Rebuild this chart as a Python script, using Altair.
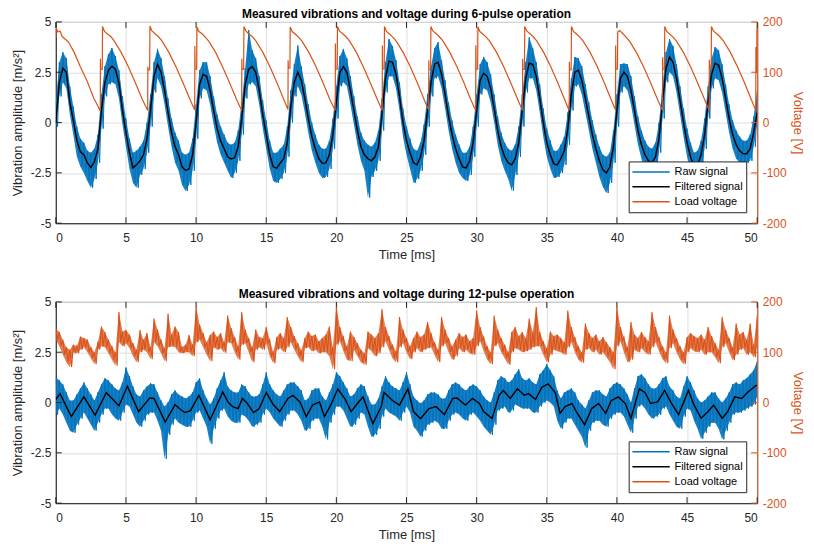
import altair as alt
import pandas as pd

# ---------------- shared ticks / labels ----------------
X_TICKS = [0, 5, 10, 15, 20, 25, 30, 35, 40, 45, 50]
ACC_TICKS = [-5, -2.5, 0, 2.5, 5]
VOLT_TICKS = [-200, -100, 0, 100, 200]
SERIES = ["Raw signal", "Filtered signal", "Load voltage"]
TITLE_6 = "Measured vibrations and voltage during 6-pulse operation"
TITLE_12 = "Measured vibrations and voltage during 12-pulse operation"

# sample grid of the vibration envelopes (ms)
GRID_T = [i * 0.25 for i in range(201)]

# ---------------- 6-pulse panel ----------------
top_filtered = [
    0.0, 2.0, 2.7, 2.5, 1.0, 0.1, -0.9, -1.45, -1.6, -2.0, -2.23, -1.95,
    -1.3, 0.6, 2.0, 2.6, 2.8, 2.65, 1.95, 0.6, -0.5, -1.5, -2.25, -2.1,
    -1.9, -1.6, -0.8, 0.6, 2.3, 2.9, 2.5, 1.6, 0.5, -0.5, -1.2, -1.6,
    -2.2, -2.38, -2.3, -1.6, 0.0, 1.9, 2.4, 2.3, 1.6, 0.6, -0.3, -0.9,
    -1.3, -1.7, -1.81, -1.75, -1.2, 0.2, 1.9, 2.65, 2.78, 2.5, 1.6, 0.4,
    -0.6, -1.6, -2.2, -2.27, -2.0, -1.8, -1.0, 0.8, 2.0, 2.5, 2.1, 1.2,
    0.2, -0.7, -1.3, -1.8, -2.02, -2.0, -1.6, -0.6, 1.0, 2.5, 2.78, 2.5,
    1.6, 0.6, -0.4, -1.2, -1.6, -1.8, -1.9, -1.7, -1.2, 0.4, 2.2, 3.05,
    3.0, 2.4, 1.3, 0.0, -0.9, -1.5, -2.0, -2.1, -1.7, -0.9, 0.6, 2.0,
    2.9, 3.0, 2.4, 1.4, 0.3, -0.6, -1.3, -1.8, -2.2, -2.25, -1.9, -1.0,
    0.6, 2.1, 2.45, 2.3, 1.7, 0.7, -0.4, -1.2, -1.7, -2.0, -2.1, -1.8,
    -1.0, 0.6, 2.2, 2.95, 2.9, 2.3, 1.2, 0.0, -1.0, -1.6, -2.05, -2.1,
    -1.8, -1.4, -0.3, 1.4, 2.5, 2.6, 2.1, 1.2, 0.3, -0.6, -1.3, -1.9,
    -2.35, -2.5, -2.2, -1.2, 0.6, 2.2, 2.5, 2.3, 1.6, 0.6, -0.4, -1.1,
    -1.6, -1.9, -2.0, -1.7, -0.8, 1.0, 2.7, 3.25, 3.0, 2.2, 1.1, 0.0,
    -1.0, -1.7, -2.2, -2.1, -1.6, -0.6, 1.0, 2.4, 2.95, 2.85, 2.2, 1.2,
    0.2, -0.6, -1.1, -1.4, -1.55, -1.55, -1.3, -0.5, 0.5,
]
top_raw_hi = [
    1.0, 3.0, 3.5, 3.2, 1.8, 0.8, -0.2, -0.8, -1.0, -1.4, -1.5, -1.3,
    -0.6, 1.4, 2.8, 3.4, 3.7, 3.3, 2.6, 1.3, 0.2, -0.8, -1.5, -1.4,
    -1.2, -0.9, 0.0, 1.4, 3.0, 3.66, 3.2, 2.3, 1.2, 0.2, -0.5, -0.9,
    -1.5, -1.6, -1.5, -0.8, 0.9, 2.6, 3.0, 3.0, 2.3, 1.3, 0.4, -0.2,
    -0.6, -1.0, -1.1, -1.0, -0.4, 1.0, 2.7, 4.6, 3.6, 3.2, 2.3, 1.1,
    0.1, -0.9, -1.5, -1.5, -1.3, -1.1, -0.2, 1.6, 2.9, 3.83, 2.8, 1.9,
    0.9, 0.0, -0.6, -1.1, -1.3, -1.3, -0.9, 0.2, 1.8, 3.3, 3.66, 3.2,
    2.3, 1.3, 0.3, -0.5, -0.9, -1.1, -1.2, -1.0, -0.4, 1.2, 3.0, 4.15,
    3.8, 3.1, 2.0, 0.7, -0.2, -0.8, -1.3, -1.4, -1.0, -0.1, 1.4, 2.8,
    3.7, 4.0, 3.1, 2.1, 1.0, 0.1, -0.6, -1.1, -1.5, -1.5, -1.2, -0.2,
    1.4, 2.9, 3.26, 3.0, 2.4, 1.4, 0.3, -0.5, -1.0, -1.3, -1.4, -1.1,
    -0.2, 1.4, 3.0, 4.24, 3.7, 3.0, 1.9, 0.7, -0.3, -0.9, -1.4, -1.4,
    -1.1, -0.7, 0.5, 2.2, 3.26, 3.2, 2.8, 1.9, 1.0, 0.1, -0.6, -1.2,
    -1.6, -1.7, -1.5, -0.4, 1.4, 2.9, 2.94, 2.9, 2.3, 1.3, 0.3, -0.4,
    -0.9, -1.2, -1.3, -1.0, 0.0, 1.8, 3.5, 4.15, 3.8, 2.9, 1.8, 0.7,
    -0.3, -1.0, -1.5, -1.4, -0.9, 0.2, 1.8, 3.2, 3.75, 3.6, 2.9, 1.9,
    0.9, 0.1, -0.4, -0.7, -0.9, -0.9, -0.6, 0.3, 1.56,
]
top_raw_lo = [
    -0.2, 1.3, 2.0, 1.7, 0.4, -0.6, -1.7, -2.2, -2.5, -2.9, -3.24, -2.8,
    -2.0, -0.3, 1.3, 1.9, 2.0, 1.9, 1.2, -0.1, -1.2, -2.3, -3.0, -3.24,
    -2.6, -2.3, -1.5, -0.2, 1.5, 2.2, 1.8, 0.9, -0.2, -1.2, -2.0, -2.4,
    -3.1, -3.4, -3.1, -2.4, -0.8, 1.2, 1.7, 1.6, 0.9, -0.1, -1.0, -1.6,
    -2.0, -2.4, -2.75, -2.5, -1.9, -0.6, 1.2, 1.9, 2.0, 1.8, 0.9, -0.3,
    -1.3, -2.3, -2.9, -3.0, -2.8, -2.5, -1.7, 0.0, 1.3, 1.8, 1.4, 0.5,
    -0.5, -1.4, -2.0, -2.5, -2.75, -2.7, -2.3, -1.3, 0.2, 1.8, 2.0, 1.8,
    0.9, -0.1, -1.1, -1.9, -2.4, -3.73, -2.7, -2.4, -1.9, -0.4, 1.5, 2.3,
    2.3, 1.7, 0.6, -0.7, -1.6, -2.3, -3.0, -2.8, -2.4, -1.6, -0.2, 1.3,
    2.2, 2.3, 1.7, 0.7, -0.4, -1.3, -2.0, -2.5, -2.75, -2.9, -2.6, -1.7,
    -0.2, 1.4, 1.7, 1.6, 1.0, 0.0, -1.1, -1.9, -2.4, -2.8, -3.4, -2.6,
    -1.7, -0.2, 1.5, 2.2, 2.2, 1.6, 0.5, -0.7, -1.7, -2.3, -2.75, -2.7,
    -2.5, -2.1, -1.1, 0.6, 1.8, 1.9, 1.4, 0.5, -0.4, -1.3, -2.0, -2.7,
    -3.2, -3.5, -3.0, -2.0, -0.2, 1.5, 1.8, 1.6, 0.9, -0.1, -1.1, -1.8,
    -2.4, -2.8, -2.7, -2.4, -1.5, 0.2, 2.0, 2.5, 2.3, 1.5, 0.4, -0.7,
    -1.7, -2.4, -3.0, -2.8, -2.3, -1.3, 0.2, 1.7, 2.2, 2.1, 1.5, 0.5,
    -0.5, -1.3, -1.8, -2.0, -2.0, -2.0, -1.9, -1.2, 0.0,
]
top_volt_t = [
    0.0, 0.01, 0.15, 0.3, 0.45, 0.7, 0.9, 1.3, 1.75, 2.25, 2.7, 3.05, 3.17,
    3.18, 3.2, 3.31, 3.33, 3.47, 3.72, 3.92, 4.17, 4.67, 5.17, 5.67, 6.17,
    6.55, 6.56, 6.58, 6.69, 6.71, 6.85, 7.1, 7.3, 7.55, 8.05, 8.55, 9.05, 9.55,
    9.9, 9.91, 9.93, 10.04, 10.06, 10.2, 10.45, 10.65, 10.9, 11.4, 11.9, 12.4, 12.9,
    13.25, 13.26, 13.28, 13.39, 13.41, 13.55, 13.8, 14.0, 14.25, 14.75, 15.25, 15.75, 16.25,
    16.55, 16.56, 16.58, 16.69, 16.71, 16.85, 17.1, 17.3, 17.55, 18.05, 18.55, 19.05, 19.55,
    19.92, 19.93, 19.95, 20.06, 20.08, 20.22, 20.47, 20.67, 20.92, 21.42, 21.92, 22.42, 22.92,
    23.27, 23.28, 23.3, 23.41, 23.43, 23.57, 23.82, 24.02, 24.27, 24.77, 25.27, 25.77, 26.27,
    26.58, 26.59, 26.61, 26.72, 26.74, 26.88, 27.13, 27.33, 27.58, 28.08, 28.58, 29.08, 29.58,
    29.93, 29.94, 29.96, 30.07, 30.09, 30.23, 30.48, 30.68, 30.93, 31.43, 31.93, 32.43, 32.93,
    33.27, 33.28, 33.3, 33.41, 33.43, 33.57, 33.82, 34.02, 34.27, 34.77, 35.27, 35.77, 36.27,
    36.6, 36.61, 36.63, 36.74, 36.76, 36.9, 37.15, 37.35, 37.6, 38.1, 38.6, 39.1, 39.6,
    39.9, 39.91, 39.93, 40.04, 40.06, 40.2, 40.45, 40.65, 40.9, 41.4, 41.9, 42.4, 42.9,
    43.25, 43.26, 43.28, 43.39, 43.41, 43.55, 43.8, 44.0, 44.25, 44.75, 45.25, 45.75, 46.25,
    46.58, 46.59, 46.61, 46.72, 46.74, 46.88, 47.13, 47.33, 47.58, 48.08, 48.58, 49.08, 49.58,
    49.9, 49.91, 49.93, 49.97, 49.98, 50.0,
]
top_volt_v = [
    168, 189, 180, 182, 171, 165, 160, 140, 111, 81, 49, 30, 23,
    127, 105, 106, 191, 181, 175, 171, 162, 139, 111, 79, 46,
    24, 111, 104, 105, 192, 182, 176, 171, 163, 140, 112, 80, 47,
    25, 152, 106, 106, 190, 181, 176, 170, 162, 139, 110, 78, 45,
    24, 127, 105, 106, 191, 182, 175, 171, 163, 140, 112, 80, 46,
    26, 124, 108, 108, 190, 181, 175, 170, 162, 139, 111, 79, 45,
    24, 157, 106, 106, 191, 182, 176, 171, 163, 140, 111, 79, 46,
    24, 153, 106, 107, 191, 181, 175, 170, 162, 139, 111, 79, 45,
    25, 124, 105, 106, 191, 182, 176, 171, 163, 140, 112, 80, 46,
    24, 153, 106, 106, 190, 181, 175, 170, 162, 139, 111, 79, 46,
    24, 127, 105, 106, 191, 182, 176, 171, 163, 140, 112, 80, 46,
    24, 121, 104, 105, 191, 181, 175, 170, 162, 139, 111, 79, 45,
    25, 153, 106, 106, 180, 183, 176, 170, 162, 139, 111, 79, 46,
    24, 130, 106, 106, 191, 181, 175, 170, 162, 139, 111, 79, 46,
    24, 125, 105, 106, 191, 182, 176, 171, 163, 140, 112, 80, 46,
    24, 150, 100, 100, 189, 185,
]

# ---------------- 12-pulse panel ----------------
bot_filtered_t = [
    0, 0.3, 1.1, 2.0, 2.8, 3.6, 4.0, 4.5, 5.1, 5.9, 6.7, 7.0, 7.8, 8.5, 8.8,
    9.2, 9.6, 10.2, 11.0, 11.9, 12.3, 12.6, 13.0, 13.3, 13.6, 14.1, 14.5,
    15.0, 15.5, 15.96, 16.55, 16.9, 17.4, 17.85, 18.3, 18.8, 19.15, 19.6,
    20.1, 20.6, 21.05, 21.5, 21.9, 22.2, 22.6, 23.2, 23.4, 24.0, 24.5, 25.1,
    25.5, 26.0, 26.6, 27.1, 27.7, 28.3, 28.6, 29.2, 29.7, 30.2, 30.5, 31.1,
    31.6, 31.9, 32.4, 32.9, 33.4, 33.7, 34.2, 34.65, 35.1, 35.6, 35.95, 36.3,
    36.8, 37.1, 37.7, 38.2, 38.7, 39.2, 39.6, 40.1, 40.6, 41.0, 41.6, 42.0,
    42.4, 42.9, 43.4, 43.9, 44.4, 45.1, 45.5, 46.0, 46.5, 46.9, 47.5, 47.9,
    48.4, 48.9, 49.3, 49.9, 50.0,
]
bot_filtered_v = [
    0.15, 0.44, -0.7, 0.28, -0.62, 0.49, 0.2, -0.16, 0.81, -0.45, 0.23, 0.2,
    -0.97, -0.1, -0.3, -0.5, -0.4, 0.36, -0.86, 0.52, 0.0, -0.2, -0.3, 0.2,
    0.0, -0.5, -0.3, 0.5, -0.1, -0.45, 0.2, 0.36, 0.03, -0.7, -0.13, 0.03,
    -0.7, -0.13, 0.68, 0.2, -0.45, -0.05, 0.28, -0.3, -1.05, -0.2, 0.5, 0.1,
    -0.13, 0.68, -0.45, -0.8, -0.3, -0.2, -0.6, 0.2, 0.23, -0.13, 0.2, -0.05,
    -0.45, -0.8, 0.36, 0.6, 0.2, 0.68, 0.36, 0.44, 0.15, 0.76, 0.93, 0.5,
    -0.54, -0.2, -0.05, -0.45, -1.1, -0.3, -0.05, -0.54, 0.1, 0.28, -0.05,
    -0.78, 0.68, 0.5, -0.05, 0.03, 0.6, -0.05, -0.6, 0.6, -0.13, -0.78,
    -0.45, -0.13, -0.78, -0.45, 0.28, 0.2, 0.5, 0.84, 0.85,
]
bot_raw_hi = [
    1.25, 1.1, 0.9, 0.5, 0.1, 0.1, 0.4, 0.7, 1.0, 0.7, 0.4, 0.1,
    0.5, 0.9, 1.2, 1.1, 0.9, 0.7, 0.6, 1.0, 1.74, 1.3, 0.8, 0.4,
    0.3, 0.6, 0.8, 0.95, 0.9, 0.5, 0.1, -0.2, 0.0, 0.4, 0.6, 0.4,
    0.3, 0.2, 0.3, 0.5, 1.0, 1.2, 0.6, 0.2, -0.1, 0.2, 0.7, 1.1,
    1.5, 0.8, 0.6, 0.5, 0.5, 0.9, 0.8, 0.5, 0.3, 0.3, 0.4, 0.9,
    1.5, 0.9, 0.6, 0.4, 0.3, 0.6, 0.9, 1.0, 1.0, 0.8, 0.6, 0.1,
    0.2, 0.6, 0.7, 0.7, 0.3, 0.1, 0.5, 0.9, 1.5, 1.3, 1.0, 0.7,
    0.3, 0.4, 0.7, 0.9, 0.8, 0.3, -0.1, -0.1, 0.2, 0.8, 1.3, 1.0,
    0.8, 0.7, 0.6, 1.0, 1.5, 0.9, 0.3, 0.1, -0.05, 0.1, 0.4, 0.5,
    0.5, 0.4, 0.2, 0.2, 0.6, 0.9, 1.0, 0.9, 0.7, 0.6, 0.8, 0.9,
    0.8, 0.6, 0.3, 0.1, 0.0, 0.5, 1.1, 1.3, 1.2, 1.0, 1.1, 1.4,
    1.65, 1.2, 1.1, 1.2, 1.0, 0.9, 1.4, 1.6, 1.9, 1.6, 1.3, 0.6,
    0.2, 0.5, 0.6, 0.7, 0.5, 0.1, -0.1, -0.3, 0.1, 0.5, 0.6, 0.6,
    0.4, 0.3, 0.7, 0.9, 1.0, 0.9, 0.7, 0.4, 0.0, 0.7, 1.3, 1.4,
    1.2, 0.9, 0.7, 0.7, 0.9, 1.2, 1.3, 0.8, 0.6, 0.3, 0.2, 0.8,
    1.3, 1.0, 0.6, 0.2, 0.0, 0.1, 0.3, 0.5, 0.5, 0.2, 0.0, 0.2,
    0.5, 0.9, 1.0, 0.9, 1.1, 1.2, 1.4, 1.6, 2.06,
]
bot_raw_lo = [
    -0.6, -0.3, -0.6, -1.0, -1.4, -1.5, -1.1, -0.8, -0.5, -0.8, -1.1, -1.4,
    -1.0, -0.6, -0.3, -0.3, -0.6, -0.8, -0.9, -0.5, -0.1, -0.2, -0.6, -1.0,
    -1.2, -0.9, -0.6, -0.5, -0.5, -0.9, -1.4, -2.8, -1.6, -1.1, -0.8, -1.0,
    -1.1, -1.2, -1.2, -0.9, -0.5, -0.4, -0.8, -1.2, -2.05, -1.3, -0.8, -0.4,
    -0.3, -0.7, -0.9, -1.0, -1.0, -0.6, -0.7, -0.9, -1.2, -1.1, -1.0, -0.6,
    -0.3, -0.5, -0.8, -1.0, -1.2, -0.9, -0.6, -0.4, -0.4, -0.6, -0.9, -1.4,
    -1.3, -0.9, -0.8, -0.8, -1.2, -1.83, -1.0, -0.6, -0.2, -0.2, -0.4, -0.8,
    -1.2, -1.1, -0.8, -0.5, -0.6, -1.2, -1.7, -1.6, -1.3, -0.7, -0.3, -0.5,
    -0.6, -0.7, -0.9, -0.5, -0.2, -0.5, -1.2, -1.4, -1.7, -1.4, -1.1, -1.0,
    -0.9, -1.0, -1.3, -1.3, -0.9, -0.6, -0.5, -0.6, -0.8, -0.9, -0.6, -0.5,
    -0.7, -0.9, -1.2, -1.4, -1.6, -1.1, -0.4, -0.3, -0.2, -0.5, -0.4, -0.1,
    -0.2, -0.3, -0.3, -0.3, -0.5, -0.5, -0.2, 0.0, 0.1, 0.0, -0.2, -0.9,
    -1.3, -1.0, -0.8, -0.8, -1.1, -1.4, -1.7, -2.24, -1.4, -1.0, -0.9, -0.9,
    -1.1, -1.2, -0.8, -0.6, -0.5, -0.5, -0.7, -1.1, -1.5, -0.8, -0.2, -0.1,
    -0.3, -0.6, -0.8, -0.7, -0.6, -0.3, -0.2, -0.6, -0.9, -1.2, -1.3, -0.7,
    -0.3, -0.4, -0.9, -1.3, -1.8, -1.5, -1.2, -1.0, -1.0, -1.3, -1.83, -1.4,
    -1.0, -0.6, -0.5, -0.5, -0.4, -0.3, -0.2, -0.1, 0.3,
]
bot_volt_hi = [
    147, 140, 125, 110, 105, 115, 112, 131, 128, 125, 110, 100,
    121, 151, 140, 125, 112, 100, 180, 141, 144, 135, 118, 105,
    144, 125, 138, 110, 167, 145, 125, 108, 177, 135, 151, 140,
    110, 115, 134, 115, 190, 155, 138, 120, 134, 141, 130, 138,
    120, 173, 148, 130, 112, 180, 145, 128, 110, 145, 130, 128,
    150, 125, 100, 130, 138, 128, 170, 150, 132, 118, 104, 128,
    141, 132, 135, 122, 128, 135, 151, 110, 190, 150, 130, 112,
    141, 130, 118, 105, 98, 141, 135, 128, 138, 186, 150, 132,
    115, 102, 170, 145, 128, 112, 128, 141, 130, 135, 160, 138,
    120, 105, 170, 145, 128, 112, 125, 138, 130, 135, 122, 128,
    183, 150, 130, 112, 100, 173, 145, 128, 115, 100, 140, 150,
    132, 140, 128, 167, 140, 190, 140, 122, 108, 141, 132, 135,
    128, 120, 183, 150, 130, 112, 100, 157, 138, 128, 135, 122,
    130, 120, 110, 100, 190, 150, 130, 110, 160, 135, 128, 140,
    130, 122, 180, 150, 130, 112, 100, 173, 145, 128, 112, 100,
    130, 138, 132, 128, 135, 125, 150, 132, 118, 105, 170, 145,
    128, 110, 157, 135, 140, 125, 157, 115, 173,
]
bot_volt_lo = [
    125, 112, 95, 80, 70, 100, 98, 105, 110, 100, 88, 76,
    105, 112, 110, 98, 85, 73, 120, 112, 118, 108, 92, 80,
    100, 105, 100, 86, 120, 112, 98, 82, 110, 112, 110, 100,
    98, 100, 100, 92, 120, 125, 110, 95, 82, 110, 105, 108,
    99, 120, 118, 100, 85, 115, 118, 100, 80, 105, 110, 105,
    118, 92, 78, 105, 108, 100, 110, 120, 105, 92, 80, 108,
    110, 102, 105, 98, 100, 100, 92, 66, 115, 122, 102, 85,
    82, 105, 92, 80, 75, 108, 102, 92, 98, 110, 122, 105,
    88, 80, 110, 118, 100, 86, 100, 108, 100, 105, 108, 110,
    95, 80, 112, 118, 100, 85, 92, 108, 100, 105, 98, 95,
    112, 122, 102, 85, 76, 112, 118, 100, 88, 75, 100, 108,
    105, 100, 102, 105, 110, 112, 112, 95, 80, 95, 105, 102,
    100, 95, 110, 120, 100, 85, 79, 105, 108, 100, 105, 95,
    100, 90, 80, 66, 112, 122, 100, 80, 85, 105, 100, 108,
    100, 95, 110, 120, 102, 86, 78, 108, 118, 100, 85, 76,
    100, 108, 102, 100, 105, 95, 100, 100, 90, 78, 110, 118,
    100, 84, 95, 105, 108, 95, 100, 90, 110,
]

# ---------------- styling ----------------
FONT = "Liberation Sans"
BLUE = "#0072BD"
ORANGE = "#D95319"
AXC = "#262626"
GRIDC = "#DFDFDF"
W, H = 704, 202
TL = 6  # inward tick length (px)


def zigzag(t, hi, lo, field, name):
    rows = []
    for ti, h, l in zip(t, hi, lo):
        rows.append({"t": ti, field: h, "series": name})
        if ti + 0.125 <= 50:
            rows.append({"t": ti + 0.125, field: l, "series": name})
    return pd.DataFrame(rows)


def band(t, hi, lo, field):
    return pd.DataFrame({"t": t, field: lo, field + "2": hi})


def panel(title, filt_t, filt_v, raw_hi, raw_lo, volt_t, volt_v, volt_lo=None):
    color = alt.Color(
        "series:N",
        scale=alt.Scale(domain=SERIES, range=[BLUE, "#000000", ORANGE]),
        legend=alt.Legend(
            orient="none", legendX=575, legendY=H - 62, title=None,
            symbolType="stroke", symbolSize=1400, symbolStrokeWidth=1.5,
            labelFont=FONT, labelFontSize=11, labelColor="black",
            fillColor="white", strokeColor=AXC, padding=3, rowPadding=0,
            clipHeight=15, labelOffset=4, cornerRadius=0,
        ),
    )
    x = alt.X(
        "t:Q", scale=alt.Scale(domain=[0, 50], nice=False),
        axis=alt.Axis(values=X_TICKS, title="Time [ms]", grid=True,
                      labelPadding=9, titlePadding=5,
                      labelExpr="'' + datum.value"),
    )
    yl = alt.Y(
        "a:Q", scale=alt.Scale(domain=[-5, 5], nice=False),
        axis=alt.Axis(values=ACC_TICKS, orient="left", grid=True,
                      title="Vibration amplitude [m/s²]",
                      labelExpr="'' + datum.value"),
    )
    yr = alt.Y(
        "v:Q", scale=alt.Scale(domain=[-200, 200], nice=False),
        axis=alt.Axis(values=VOLT_TICKS, orient="right", grid=False,
                      title="Voltage [V]", labelColor=ORANGE, titleColor=ORANGE,
                      domainColor=ORANGE, titlePadding=4,
                      labelExpr="'' + datum.value"),
    )
    raw_df = zigzag(GRID_T, raw_hi, raw_lo, "a", "Raw signal")
    raw_band = band(GRID_T, raw_hi, raw_lo, "a")
    filt_df = pd.DataFrame({"t": filt_t, "a": filt_v, "series": "Filtered signal"})
    xt = pd.DataFrame({"t": X_TICKS})
    yt = pd.DataFrame({"a": ACC_TICKS})

    rawb = alt.Chart(raw_band).mark_area(color=BLUE, opacity=0.9, clip=True).encode(
        x=x, y=yl, y2="a2:Q")
    raw = alt.Chart(raw_df).mark_line(strokeWidth=1, clip=True).encode(x=x, y=yl, color=color)
    filt = alt.Chart(filt_df).mark_line(strokeWidth=1.4, clip=True).encode(x=x, y=yl, color=color)
    tick_b = alt.Chart(xt).mark_rule(color=AXC).encode(x=x, y=alt.value(H), y2=alt.value(H - TL))
    tick_t = alt.Chart(xt).mark_rule(color=AXC).encode(x=x, y=alt.value(0), y2=alt.value(TL))
    tick_l = alt.Chart(yt).mark_rule(color=AXC).encode(y=yl, x=alt.value(0), x2=alt.value(TL))
    tick_r = alt.Chart(yt).mark_rule(color=ORANGE).encode(y=yl, x=alt.value(W), x2=alt.value(W - TL))
    inner = alt.layer(rawb, raw, filt, tick_b, tick_t, tick_l, tick_r)

    if volt_lo is None:
        vdf = pd.DataFrame({"t": volt_t, "v": volt_v, "series": "Load voltage"})
        volt = alt.Chart(vdf).mark_line(strokeWidth=1.2, clip=True).encode(x=x, y=yr, color=color)
    else:
        vdf = zigzag(volt_t, volt_v, volt_lo, "v", "Load voltage")
        vband = band(volt_t, volt_v, volt_lo, "v")
        va = alt.Chart(vband).mark_area(color=ORANGE, opacity=0.75, clip=True).encode(
            x=x, y=yr, y2="v2:Q")
        vl = alt.Chart(vdf).mark_line(strokeWidth=1.1, clip=True).encode(x=x, y=yr, color=color)
        volt = alt.layer(va, vl)

    return (
        alt.layer(inner, volt)
        .resolve_scale(y="independent")
        .properties(
            width=W, height=H,
            title=alt.TitleParams(title, font=FONT, fontSize=12, fontWeight="bold",
                                  color="black", offset=-5, anchor="middle"),
        )
    )


top = panel(TITLE_6, GRID_T, top_filtered, top_raw_hi, top_raw_lo, top_volt_t, top_volt_v)
bottom = panel(TITLE_12, bot_filtered_t, bot_filtered_v, bot_raw_hi, bot_raw_lo,
               GRID_T, bot_volt_hi, bot_volt_lo)

chart = (
    alt.vconcat(top, bottom, spacing=25)
    .resolve_scale(x="independent", y="independent", color="independent")
    .resolve_legend(color="independent")
    .properties(padding={"left": 2, "top": -2, "right": 2, "bottom": 0}, background="white")
    .configure_view(stroke=AXC, strokeWidth=1)
    .configure_axis(
        labelFont=FONT, titleFont=FONT, labelFontSize=12, titleFontSize=13,
        titleFontWeight="normal", labelColor=AXC, titleColor=AXC,
        domainColor=AXC, domainWidth=1, gridColor=GRIDC, gridWidth=1,
        ticks=False, tickSize=0, labelPadding=5, titlePadding=6,
    )
)

chart.save("out.html", embed_options={"renderer": "svg", "actions": False})
